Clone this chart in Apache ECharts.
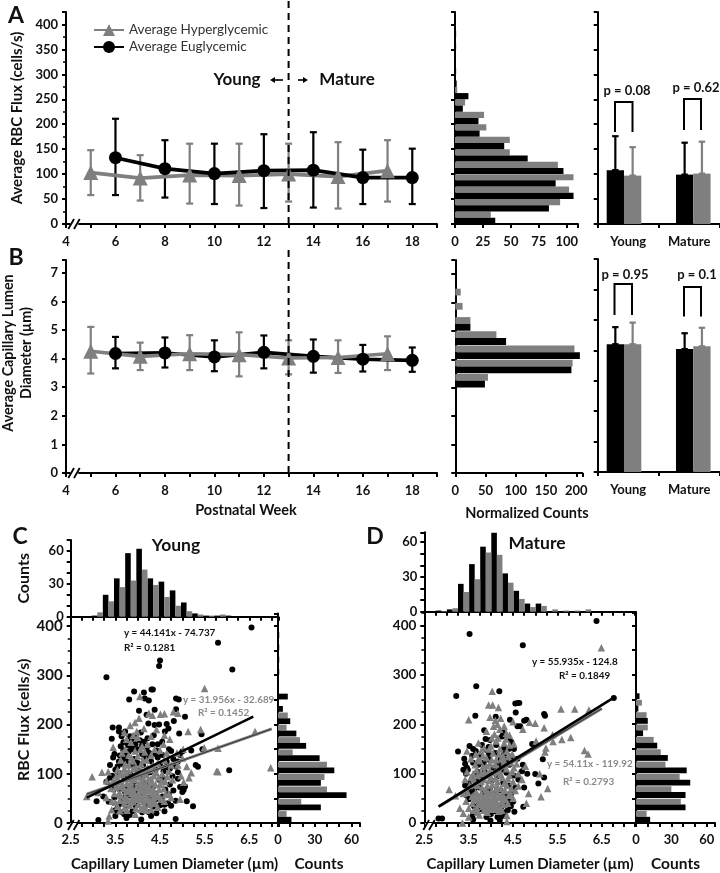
<!DOCTYPE html>
<html><head><meta charset="utf-8">
<style>html,body{margin:0;padding:0;background:#fff}#c{width:720px;height:873px}</style>
<script src="https://cdn.jsdelivr.net/npm/echarts@6/dist/echarts.min.js"></script>
</head><body><div id="c"></div>
<script>
// ---------- data ----------
const grayWeeks=[5,7,9,11,13,15,17], blackWeeks=[6,8,10,12,14,16,18];
const fluxGray=[103,92,98,97,100,95,107], fluxGrayLo=[58,47,41,37,45,31,45], fluxGrayHi=[148,138,161,161,161,164,168];
const fluxBlack=[133,111,101,107,108,93,93], fluxBlackLo=[58,53,40,32,33,40,40], fluxBlackHi=[211,168,161,180,184,149,151];
const diaGray=[4.26,4.08,4.17,4.14,4.02,4.04,4.17], diaGrayLo=[3.48,3.6,3.6,3.38,3.45,3.5,3.6], diaGrayHi=[5.11,4.56,4.82,4.92,4.64,4.64,4.78];
const diaBlack=[4.18,4.2,4.06,4.22,4.08,3.98,3.94], diaBlackLo=[3.66,3.69,3.56,3.66,3.51,3.55,3.54], diaBlackHi=[4.76,4.74,4.64,4.81,4.67,4.48,4.39];
const fluxBins=['0','25','50','75','100','125','150','175','200','225','250','275','300','325','350','375','400'];
const fluxHistBlack=[36,84,106,90,97,65,44,22,21,7,12,1.5,1,0.5,1,1,0];
const fluxHistGray=[32,94,102,106,92,49,49,28,26,9,2,0,0,0,0,0,0];
const diaBins=['0','0.5','1','1.5','2','2.5','3','3.5','4','4.5','5','5.5','6','6.5','7'];
const diaHistBlack=[0,0,0,0,0,2,49,192,206,84,25,0,0,0,0];
const diaHistGray=[0,0,0,0,0,0,54,194,197,68,25,12,9,0,0];
const groups=['Young','Mature'];
const fluxBarBlack=[108,99], fluxBarBlackHi=[176,163], fluxBarGray=[97,101], fluxBarGrayHi=[154,165];
const diaBarBlack=[4.2,4.04], diaBarBlackHi=[4.76,4.56], diaBarGray=[4.2,4.13], diaBarGrayHi=[4.91,4.74];
const cTopBins=[2.97,3.22,3.47,3.72,3.97,4.22,4.47,4.72,4.97,5.22,5.47,5.72,5.97];
const cTopBlack=[1,20,35,58,62,35,32,24,13,3,1,1,1];
const cTopGray=[4,14,27,33,43,29,18,10,5,2,1,2,0];
const dTopBins=[2.76,3.01,3.26,3.51,3.76,4.01,4.26,4.51,4.76,5.01,5.26,5.51,5.76,6.01];
const dTopBlack=[1,2,24,41,56,68,33,18,7,7,0,0,0,0];
const dTopGray=[0.5,3,17,28,51,49,25,11,4,5,2,1,1,2];
const cSideBlack=[11,35,56,35,46,34,23,15,10,4,8,0,1,1,1,1,0];
const cSideGray=[7,19,40,38,40,12,18,7,8,0,0,0,0,0,0,0,0];
const dSideBlack=[12,42,42,46,43,27,18,6,10,2,3,0,0,0,0,0,0];
const dSideGray=[9,38,30,37,25,21,15,10,9,5,0,0,0,0,0,0,0];
const cTrendBlack=[[2.86,51.5],[6.59,216.2]], cTrendGray=[[2.86,58.7],[7.0,191]];
const dTrendBlack=[[2.82,33],[6.76,253.3]], dTrendGray=[[2.85,34.3],[6.5,231.8]];
const cScatterBlack=[[6.55,397],[5.8,366],[6.12,312],[4.5,330],[4.48,319],[3.3,296],[3.92,267],[4.14,265],[4.31,271],[4.34,271],[3.81,251],[4.16,253],[4.25,249],[4.86,253],[4.92,251],[4.03,228],[4.38,230],[4.86,231],[4.2,220],[5.06,216],[4.65,201],[4.38,199],[4.48,200],[4.24,202],[3.44,194],[3.58,194],[3.58,186],[3.72,186],[3.42,171],[4.07,184],[4.81,207],[4.61,186],[4.69,192],[4.93,182],[5.43,180],[3.68,164],[6.05,107],[5.24,34],[4.85,8],[3.12,6],[4.08,7],[5.1,44],[5.06,74],[4.95,73],[5.03,67],[5,63],[4.85,45],[4.75,35],[4.68,40],[4.6,37],[4.5,36],[4.25,22],[3.75,10],[3.65,22],[3.55,30],[3.08,44],[3.23,54],
[3.45,133],[3.6,137],[3.75,140],[3.9,150],[3.95,160],[4.05,168],[4.2,150],[3.85,155],[3.8,145],[4.1,140],[4.15,130],[3.7,132],[3.65,120],[3.55,115],[3.75,125],[3.92,130],[4,122],[4.12,118],[4.3,125],[4.45,133],[4.55,138],[4.7,150],[4.75,146],[4.8,130],[4.9,125],[5,145],[5.2,147],[5.3,118],[5.45,150],[5.35,114],[4.33,160],[4.22,172],[3.83,176],[4.42,147],[4.62,113],[4.5,120],[4.28,103],[3.98,108],[3.84,98],[3.7,93],[3.52,82],[3.4,76],[3.6,68],[3.78,74],[3.92,84],[4.08,92],[4.18,82],[4.35,74],[4.48,88],[4.62,68],[4.72,78],[3.48,52],[3.66,48],[3.82,56],[3.97,62],[4.12,58],[4.27,52],[4.42,48],[4.56,54],[3.6,38],[3.76,34],[3.9,42],[4.03,46],[4.18,38],[4.34,33],[3.5,26],[3.7,18],[3.88,24],[4.42,20],[3.35,43],[3.43,96],[3.57,102],[4.4,108],[3.62,156],[4.1,158],[3.88,118],[4.05,76],[3.72,62],[4.25,66],[3.95,36],[4.56,92],[4.78,95],[4.9,103],
[3.86,170],[3.96,175],[4.02,150],[4.14,165],[4.26,142],[4.36,178],[4.45,160],[3.78,158],[3.68,148],[3.58,125],[3.5,108],[3.48,140],[3.64,176],[3.92,120],[4.2,135],[4.55,165],[4.4,140],[4.65,125],[4.58,105],[4.72,110],[4.85,115],[4.95,138],[3.38,118],[3.38,92],[3.46,68],[3.3,84],[4.1,22],[4.3,14],[3.82,16],[3.5,14],[4.6,24],[4.7,58],[4.8,66],[4.9,90],[4.4,60],[4,54],[3.85,40],[3.72,52],[4.2,100],[3.9,72]];
const cScatterGray=[[5.5,273],[6.98,112],[6.63,186],[5.77,105],[5.8,104],[2.98,94],[3.2,103],[2.86,54],[5.13,186],[5.41,190],[5.8,152],[5.49,153],[3.45,154],[4.05,257],[4.8,226],[4.51,221],[4.33,219],[3.94,204],[3.83,198],[4.6,222],[4.25,223],[4.9,223],[4.03,213],[3.34,104],[3.3,86],[3.12,62],[3.4,70],[5,132],[5.1,115],[5.2,102],[5.15,92],[4.9,118],[4.7,60],[4.75,52],[4.95,48],[5.03,83],[4.97,96],[3.36,14],[3.34,4],[3.42,27],[3.6,25],[3.76,26],[3.95,18],[4.1,30],[4.3,28],[4.45,32],[4.6,44],
[3.55,108],[3.66,98],[3.7,110],[3.78,90],[3.85,82],[3.92,96],[3.97,72],[4,104],[4.05,66],[4.1,84],[4.15,60],[4.2,98],[4.25,76],[4.3,90],[4.38,62],[4.42,102],[4.5,78],[4.55,100],[4.62,84],[4.7,105],[4.78,88],[3.45,86],[3.5,72],[3.58,60],[3.65,76],[3.72,54],[3.8,66],[3.87,50],[3.93,58],[4,48],[4.07,52],[4.13,44],[4.2,56],[4.28,46],[4.35,52],[4.45,58],[4.52,50],[4.62,58],[3.6,46],[3.7,40],[3.82,36],[3.9,44],[4.02,38],[4.15,34],[4.26,38],[3.5,42],[3.8,118],[3.9,126],[4,136],[4.12,128],[4.22,112],[4.3,138],[4.45,122],[4.6,128],[4.75,118],[3.72,150],[3.85,164],[4,174],[4.1,156],[4.22,160],[3.62,128],[3.75,170],[4.3,176],[4.58,160],[4.72,170],[3.98,186],[4.88,142],[5.02,150],[3.55,90],[4.02,62],[4.18,72],[3.88,70],[4.08,76],[4.35,68],
[3.6,100],[3.64,84],[3.68,70],[3.73,102],[3.76,80],[3.74,64],[3.8,106],[3.83,92],[3.82,74],[3.86,60],[3.9,110],[3.94,88],[3.91,64],[3.96,52],[3.98,100],[4.03,94],[4.03,80],[4.04,56],[4.08,108],[4.12,92],[4.1,68],[4.12,50],[4.16,102],[4.17,80],[4.2,66],[4.22,48],[4.24,88],[4.28,108],[4.27,68],[4.32,82],[4.32,60],[4.36,96],[4.4,78],[4.42,54],[4.47,92],[4.48,68],[4.54,86],[4.58,70],[4.66,94],[3.56,74],[3.52,96],[3.48,60],[3.62,56],[3.7,46],[3.77,48],[3.84,42],[3.96,30],[4.06,28],[4.2,26],[4.34,40],[4.4,40],[3.7,30],[3.55,34],[3.42,44],[3.3,52],[3.86,132],[3.96,114],[4.08,120],[4.2,128],[4.34,118],[3.72,120],[3.65,142],[3.8,138],[4.16,144],[3.94,146],[4.06,150],[4.38,150],[4.5,148],[4.65,142],[3.9,178],[4.14,192],[4.42,190],[3.7,184],[4.6,178]];
const dScatterBlack=[[6.38,409],[3.52,383],[4.72,360],[3.67,277],[3.22,257],[4.19,267],[6.77,253],[4.55,242],[4.61,243],[4.64,243],[4.56,224],[5.2,221],[5.22,217],[3.65,217],[4.75,207],[4.8,209],[4.43,209],[4.6,196],[4.66,196],[4.11,215],[4.93,160],[5.17,129],[5.2,92],[5.07,80],[5,99],[4.73,33],[4.53,23],[2.82,9],[2.9,9],[3.99,5],[3.6,7],[4.5,43],[3.26,145],
[3.85,188],[3.88,170],[3.98,168],[4.28,183],[4.25,175],[4.4,172],[3.6,150],[3.66,146],[3.58,136],[3.8,158],[3.9,148],[3.95,154],[4.12,158],[4.3,152],[4.4,150],[4.45,134],[4.35,128],[3.42,120],[3.46,112],[3.44,100],[3.48,108],[3.6,122],[3.72,118],[3.84,122],[3.96,128],[4.06,112],[4.18,118],[4.25,108],[4.35,102],[4.52,96],[4.62,88],[4.72,118],[4.82,100],[3.5,80],[3.58,90],[3.68,84],[3.8,92],[3.92,98],[4.02,86],[4.14,94],[4.28,82],[4.4,76],[4.55,72],[3.42,76],[3.52,64],[3.62,68],[3.74,72],[3.85,62],[3.98,68],[4.1,60],[4.22,66],[4.34,58],[4.46,60],[3.5,48],[3.62,34],[3.78,28],[3.92,34],[4.05,30],[4.15,26],[4.25,34],[4.32,22],[3.6,18],[4.15,12],[4.2,6],[3.58,12],[3.72,44],[3.85,50],[3.96,44],[4.08,40],[4.3,42],[4.42,46],[3.45,56],
[3.7,104],[3.76,134],[3.95,138],[4.3,140],[4.52,150],[4.6,130],[4.7,105],[4.75,72],[4.42,118],[3.4,130],[3.38,108],[3.65,100],[3.55,58],[3.8,40],[4,18],[4.1,24],[4.38,26],[4.45,34],[4.25,14],[3.9,12],[4.22,130],[4.1,142],[3.86,104],[3.52,156],[4.46,164]];
const dScatterGray=[[6.49,355],[5.58,231],[5.89,231],[6.21,229],[4.03,267],[3.95,239],[4.04,239],[4.17,234],[3.5,209],[5.6,169],[5.8,173],[6.11,147],[6.19,140],[5.39,179],[5.2,193],[5,202],[4.87,204],[3.06,68],[5.28,70],[5.13,53],[5.22,144],[5.24,152],[3.36,0],[4.36,15],[4.36,3],[3.98,214],[4.1,208],[4.22,212],[4.15,200],[4.5,205],[4.72,190],[4.35,182],[4.42,178],[4.2,190],[4.02,172],[4.08,180],[5.02,166],[5.4,165],[4.78,115],[5.1,100],[4.85,60],[4.8,40],[4.7,88],[4.62,100],[4.62,75],[3.2,55],[3.3,30],[3.38,20],[3.5,12],[3.46,146],[3.42,88],[3.38,60],
[3.55,130],[3.68,108],[3.75,126],[3.82,114],[3.9,132],[3.98,120],[4.05,142],[4.12,128],[4.2,150],[4.27,136],[4.36,146],[4.45,122],[4.52,112],[3.55,92],[3.62,78],[3.7,96],[3.78,84],[3.85,104],[3.92,76],[4,92],[4.08,102],[4.15,84],[4.22,98],[4.3,80],[4.38,90],[4.46,70],[3.48,62],[3.58,54],[3.66,62],[3.72,50],[3.78,60],[3.84,42],[3.9,54],[3.95,38],[4,60],[4.06,46],[4.12,70],[4.18,52],[4.25,58],[4.33,48],[4.4,56],[4.5,50],[3.58,40],[3.68,32],[3.76,38],[3.84,26],[3.92,44],[3.98,28],[4.05,36],[4.12,40],[4.2,30],[4.28,38],[3.7,22],[3.88,32],[4.02,66],[3.96,86],[3.88,68],[4.08,56],[4.16,112],[4.28,118],[3.96,150],[4.12,166],[4.3,162],[3.78,146],[4.42,158],
[3.6,100],[3.65,118],[3.62,88],[3.7,76],[3.72,130],[3.78,100],[3.8,72],[3.82,136],[3.85,88],[3.87,56],[3.9,116],[3.92,100],[3.94,62],[3.97,46],[3.98,106],[4.02,128],[4.03,78],[4.05,54],[4.1,118],[4.1,90],[4.1,34],[4.14,76],[4.14,62],[4.18,140],[4.2,104],[4.22,70],[4.24,44],[4.26,92],[4.3,126],[4.32,66],[4.35,110],[4.36,76],[4.4,134],[4.42,96],[4.44,60],[4.48,104],[4.5,84],[4.55,66],[4.58,120],[3.52,76],[3.46,104],[3.44,44],[3.5,30],[3.64,48],[3.7,58],[3.74,42],[3.8,48],[3.82,34],[3.88,44],[3.94,52],[3.96,32],[4,42],[4.04,50],[4.08,28],[4.15,40],[4.18,24],[4.25,26],[4.3,52],[4.38,40],[3.62,26],[3.74,16],[3.92,22],[3.66,140],[3.85,152],[4,156],[4.16,172],[4.24,130],[4.34,170],[4.48,140],[4.52,160],[3.9,186],[4.06,196],[4.3,196],[3.72,162]];

// ---------- helpers ----------
const GRAY='#7f7f7f', BLACK='#000', FONT='Lato, sans-serif';
const lineBlack={lineStyle:{color:'#000',width:2}};
const baseLabel={color:'#111',fontFamily:FONT,fontWeight:'bold',fontSize:13};
const nameStyle=s=>({color:'#111',fontFamily:FONT,fontWeight:'bold',fontSize:s});
function ax(o){const {label,tick,minor,...r}=o;
  return Object.assign({axisLine:{show:true,onZero:false,...lineBlack},
    axisTick:{show:true,length:4,...lineBlack,...(tick||{})},
    minorTick:minor?{show:true,splitNumber:minor,length:3,lineStyle:{color:'#000',width:1.5}}:{show:false},
    splitLine:{show:false},minorSplitLine:{show:false},
    nameTextStyle:nameStyle(14),
    axisLabel:Object.assign({},baseLabel,label||{})},r);}
const zip=(a,b,c)=>a.map((v,i)=>c?[v,b[i],c[i]]:[v,b[i]]);
const every=n=>v=>(Math.abs(v/n-Math.round(v/n))<1e-6)?String(+v.toFixed(2)):'';
const grid=[],xAxis=[],yAxis=[],series=[];
function addGrid(l,t,w,h,x,y){grid.push({left:l,top:t,width:w,height:h,containLabel:false});xAxis.push(ax(Object.assign({gridIndex:grid.length-1},x)));yAxis.push(ax(Object.assign({gridIndex:grid.length-1},y)));return grid.length-1;}
function whisker(g,name,data,color,dx,cap){
  series.push({type:'custom',name:name,xAxisIndex:g,yAxisIndex:g,silent:true,clip:false,data:data,encode:{x:0,y:[1,2]},
    renderItem(p,api){const a=api.coord([api.value(0),api.value(1)]),b=api.coord([api.value(0),api.value(2)]);const X=a[0]+dx;
      const st={stroke:color,lineWidth:2.2};
      const ln=(x1,y1,x2,y2)=>({type:'line',shape:{x1,y1,x2,y2},style:st});
      return {type:'group',children:[ln(X,a[1],X,b[1]),ln(X-cap,a[1],X+cap,a[1]),ln(X-cap,b[1],X+cap,b[1])]};}});}
function meanLine(g,name,xs,ys,color,sym){
  series.push({type:'line',name:name,xAxisIndex:g,yAxisIndex:g,data:zip(xs,ys),symbol:sym,symbolSize:sym==='circle'?13:15,silent:true,
    lineStyle:{color:color,width:3.6},itemStyle:{color:color}});}
function dashed(g,top){series.push({type:'line',xAxisIndex:g,yAxisIndex:g,clip:false,symbol:'none',silent:true,data:[[13,0],[13,top]],lineStyle:{color:'#000',width:2,type:[7,5]},z:5});}
function sideHist(g,b,gr,w){[[gr,GRAY],[b,BLACK]].forEach(([d,c])=>series.push({type:'bar',xAxisIndex:g,yAxisIndex:g,data:d,barWidth:w,barGap:0,silent:true,itemStyle:{color:c}}));}
function topHist(g,bins,b,gr){
  series.push({type:'bar',xAxisIndex:g,yAxisIndex:g,silent:true,barWidth:5.6,barGap:'-100%',itemStyle:{color:BLACK},data:bins.map((x,i)=>[x+0.0625,b[i]])});
  series.push({type:'bar',xAxisIndex:g,yAxisIndex:g,silent:true,barWidth:5.6,barGap:'-100%',itemStyle:{color:GRAY},data:bins.map((x,i)=>[x+0.1875,gr[i]])});}
function barPanel(g,b,bh,gr,gh){
  const xs=[0.431,1.567];
  series.push({type:'bar',name:'Euglycemic',xAxisIndex:g,yAxisIndex:g,silent:true,barWidth:17.3,barGap:0,itemStyle:{color:BLACK},data:zip(xs,b)});
  series.push({type:'bar',name:'Hyperglycemic',xAxisIndex:g,yAxisIndex:g,silent:true,barWidth:17.3,barGap:0,itemStyle:{color:GRAY},data:zip(xs,gr)});
  whisker(g,'eu',zip(xs,b,bh),BLACK,-8.65,3.2);
  whisker(g,'hy',zip(xs,gr,gh),GRAY,8.65,3.2);}
const barX={type:'value',min:0,max:2,interval:1,axisLabel:{...baseLabel,customValues:[0.5,1.5],formatter:v=>groups[Math.floor(v)],margin:11},axisTick:{show:true,length:4,...lineBlack,customValues:[0,1,2]}};
function scatterPanel(l,t,w,h,xmax,ymax,lab,extra){
  return addGrid(l,t,w,h,
    {type:'value',min:2.5,max:xmax,interval:0.25,name:'Capillary Lumen Diameter (µm)',nameLocation:'middle',nameGap:34,nameTextStyle:nameStyle(15),
     label:{formatter:v=>{const k=(v-2.5);return Math.abs(k-Math.round(k))<1e-6&&v<7?v.toFixed(1):'';},margin:10}},
    Object.assign({type:'value',min:0,max:ymax,interval:100,minor:4,label:{formatter:v=>v%100===0?String(v):'',fontSize:lab}},extra));
}
function scatterSeries(g,b,gr,tb,tg){
  series.push({type:'scatter',xAxisIndex:g,yAxisIndex:g,silent:true,data:b,symbol:'circle',symbolSize:6,itemStyle:{color:BLACK,opacity:1}});
  series.push({type:'scatter',xAxisIndex:g,yAxisIndex:g,silent:true,data:gr,symbol:'triangle',symbolSize:7.5,itemStyle:{color:GRAY,opacity:1}});
  series.push({type:'line',xAxisIndex:g,yAxisIndex:g,silent:true,symbol:'none',data:tg,lineStyle:{color:GRAY,width:3},z:4});
  series.push({type:'line',xAxisIndex:g,yAxisIndex:g,silent:true,symbol:'none',data:tg,lineStyle:{color:'#333',width:1},z:4});
  series.push({type:'line',xAxisIndex:g,yAxisIndex:g,silent:true,symbol:'none',data:tb,lineStyle:{color:BLACK,width:2.6},z:4});}

// ---------- panel A ----------
const weekX={type:'value',min:4,max:19,interval:1,label:{formatter:v=>v%2===0?String(v):'',margin:11}};
let g=addGrid(66,12,371,212,weekX,{type:'value',min:0,max:425,interval:50,minor:2,name:'Average RBC Flux (cells/s)',nameLocation:'middle',nameGap:39,nameTextStyle:nameStyle(15),label:{formatter:every(50),margin:8}});
whisker(g,'h',zip(grayWeeks,fluxGrayLo,fluxGrayHi),GRAY,0,3.5);
meanLine(g,'Average Hyperglycemic',grayWeeks,fluxGray,GRAY,'triangle');
whisker(g,'e',zip(blackWeeks,fluxBlackLo,fluxBlackHi),BLACK,0,3.5);
meanLine(g,'Average Euglycemic',blackWeeks,fluxBlack,BLACK,'circle');
dashed(g,450);
g=addGrid(455,12,123,212,{type:'value',min:0,max:110,interval:25,label:{formatter:every(25),margin:11}},{type:'category',data:fluxBins,axisLabel:{show:false}});
sideHist(g,fluxHistBlack,fluxHistGray,6.2);
g=addGrid(597.7,12,122,212,barX,{type:'value',min:0,max:425,interval:50,axisLabel:{show:false}});
barPanel(g,fluxBarBlack,fluxBarBlackHi,fluxBarGray,fluxBarGrayHi);

// ---------- panel B ----------
g=addGrid(66,260,371,213,weekX,{type:'value',min:0,max:7.45,interval:1,label:{formatter:every(1),margin:8}});
whisker(g,'e',zip(blackWeeks,diaBlackLo,diaBlackHi),BLACK,0,3.5);
meanLine(g,'Average Euglycemic',blackWeeks,diaBlack,BLACK,'circle');
whisker(g,'h',zip(grayWeeks,diaGrayLo,diaGrayHi),GRAY,0,3.5);
meanLine(g,'Average Hyperglycemic',grayWeeks,diaGray,GRAY,'triangle');
dashed(g,7.8);
g=addGrid(455.3,260,127,213,{type:'value',min:0,max:210,interval:50,label:{formatter:every(50),margin:11}},{type:'category',data:diaBins,axisLabel:{show:false}});
sideHist(g,diaHistBlack,diaHistGray,6.8);
g=addGrid(597.7,259,122,213,barX,{type:'value',min:0,max:7,interval:1,axisLabel:{show:false}});
barPanel(g,diaBarBlack,diaBarBlackHi,diaBarGray,diaBarGrayHi);

// ---------- panel C ----------
const histX=(max)=>({type:'value',min:2.5,max:max,interval:0.25,axisLabel:{show:false}});
const sideX=()=>({type:'value',min:0,max:67,interval:10,name:'Counts',nameLocation:'middle',nameGap:33,nameTextStyle:nameStyle(15.5),label:{formatter:every(30),margin:10}});
g=addGrid(70.7,540,207.6,76.7,histX(7.15),{type:'value',min:0,max:70,interval:10,name:'Counts',nameLocation:'middle',nameGap:39,nameTextStyle:nameStyle(16),label:{formatter:v=>v%30===0?String(v):'',margin:7,fontSize:13}});
topHist(g,cTopBins,cTopBlack,cTopGray);
g=scatterPanel(70.7,616.7,207.6,208.3,7.15,419,15,{name:'RBC Flux (cells/s)',nameLocation:'middle',nameGap:39,nameTextStyle:nameStyle(16)});
scatterSeries(g,cScatterBlack,cScatterGray,cTrendBlack,cTrendGray);
g=addGrid(278,613.6,82,211.4,sideX(),{type:'category',data:fluxBins,axisLabel:{show:false}});
sideHist(g,cSideBlack,cSideGray,5.8);

// ---------- panel D ----------
g=addGrid(424.3,532.3,211.7,79.4,histX(7.27),{type:'value',min:0,max:68.4,interval:10,label:{formatter:v=>v%30===0?String(v):'',margin:7,fontSize:13}});
topHist(g,dTopBins,dTopBlack,dTopGray);
g=scatterPanel(424.3,611.7,211.7,213.3,7.27,428,13.5,{});
scatterSeries(g,dScatterBlack,dScatterGray,dTrendBlack,dTrendGray);
g=addGrid(636,613,79,212,sideX(),{type:'category',data:fluxBins,axisLabel:{show:false}});
sideHist(g,dSideBlack,dSideGray,5.8);

// ---------- annotations ----------
const txt=(x,y,text,size,opt)=>Object.assign({type:'text',x,y,z:20,style:Object.assign({text,fill:'#111',font:`bold ${size}px Lato, sans-serif`,textAlign:'center',textVerticalAlign:'middle'},opt||{})});
const poly=(pts,w)=>({type:'polyline',z:20,shape:{points:pts},style:{stroke:'#000',lineWidth:w||2,fill:null}});
const brk=(x,y)=>[{type:'rect',z:19,shape:{x:x+2,y:y-2,width:8,height:4},style:{fill:'#fff'}},poly([[x,y+5],[x+5.7,y-5]],1.8),poly([[x+5.7,y+5],[x+11.4,y-5]],1.8)];
const bracket=(x1,x2,t,b)=>poly([[x1,b],[x1,t],[x2,t],[x2,b]],2);
const gfx=[
 txt(16,16,'A',23),txt(16,258,'B',23),txt(20,537,'C',23),txt(375,537,'D',23),
 txt(237,80,'Young',17),txt(347,80,'Mature',17),
 poly([[272,80],[283,80]],1.6),{type:'polygon',z:20,shape:{points:[[270,80],[275,77],[275,83]]},style:{fill:'#000'}},
 poly([[298,80],[306,80]],1.6),{type:'polygon',z:20,shape:{points:[[308,80],[303,77],[303,83]]},style:{fill:'#000'}},
 bracket(615,632.5,102,132),bracket(684,701,99,130),
 txt(627,91,'p = 0.08',13),txt(696,88,'p = 0.62',13),
 bracket(614.5,632,284,315),bracket(684,701,287,316.5),
 txt(625,275,'p = 0.95',13),txt(697,275,'p = 0.1',13),
 txt(246,510,'Postnatal Week',14.5),txt(527,513,'Normalized Counts',14.5),
 Object.assign(txt(0,0,'Average Capillary Lumen',14.3),{x:8,y:353,rotation:Math.PI/2}),
 Object.assign(txt(0,0,'Diameter (µm)',14.3),{x:26,y:353,rotation:Math.PI/2}),
 txt(176,545,'Young',17.5),txt(537,543,'Mature',17.5),
 txt(124,633,'y = 44.141x - 74.737',9.9,{textAlign:'left'}),txt(124,648,'R² = 0.1281',9.9,{textAlign:'left'}),
 txt(183,700,'y = 31.956x - 32.689',9.9,{textAlign:'left',fill:'#8a8a8a'}),txt(198,713,'R² = 0.1452',9.9,{textAlign:'left',fill:'#8a8a8a'}),
 txt(532,662,'y = 55.935x - 124.8',9.9,{textAlign:'left'}),txt(559,676,'R² = 0.1849',9.9,{textAlign:'left'}),
 txt(547,764,'y = 54.11x - 119.92',9.9,{textAlign:'left',fill:'#8a8a8a'}),txt(563,782,'R² = 0.2793',9.9,{textAlign:'left',fill:'#8a8a8a'}),
 ...brk(68.3,224),...brk(68.3,473),...brk(68,825),...brk(423.3,825)
];
const chart=echarts.init(document.getElementById('c'),null,{renderer:'canvas'});
chart.setOption({animation:false,backgroundColor:'#fff',tooltip:{show:false},grid,xAxis,yAxis,series,graphic:gfx,
  legend:{left:88,top:18,orient:'vertical',itemWidth:30,itemHeight:15,itemGap:3,data:['Average Hyperglycemic','Average Euglycemic'],
    textStyle:{fontFamily:FONT,fontSize:13.5,color:'#333'},selectedMode:false}});
</script></body></html>
